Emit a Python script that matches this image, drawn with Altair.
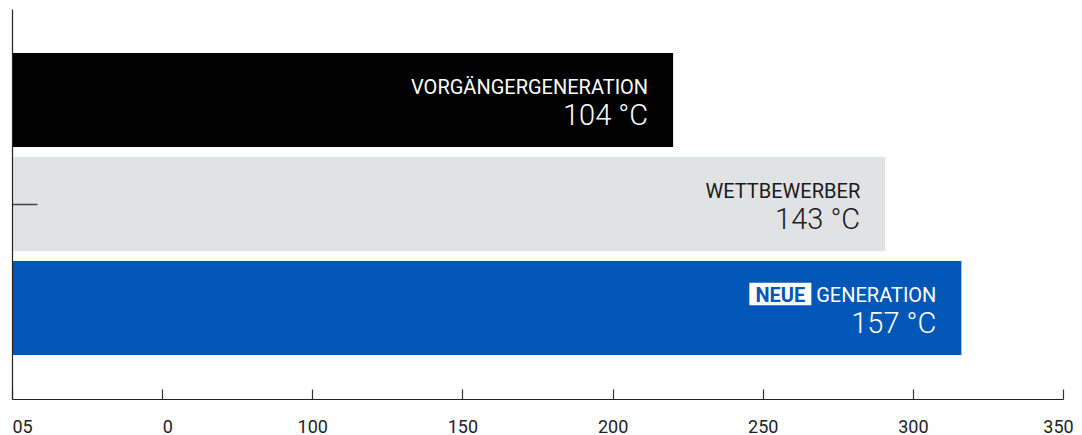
import json
import altair as alt
import pandas as pd

# ---- data ----
categories = ["VORGÄNGERGENERATION", "WETTBEWERBER", "NEUE GENERATION"]
name_labels = ["VORGÄNGERGENERATION", "WETTBEWERBER", "GENERATION"]
badges = ["", "", "NEUE"]
values = [104, 143, 157]
unit = "°C"
tick_labels = ["05", "0", "100", "150", "200", "250", "300", "350"]

# ---- styles ----
BAR_COLORS = ["#000000", "#e1e2e4", "#0057b8"]
TEXT_COLORS = ["#ffffff", "#1a1a1a", "#ffffff"]
BADGE_TEXT = "#0057b8"
AXIS_COLOR = "#222222"
FONT = "Roboto"

df = pd.DataFrame({"cat": categories, "name": name_labels, "badge": badges, "value": values})
df["value_label"] = [f"{v} {unit}" for v in values]
ticks_df = pd.DataFrame({"idx": list(range(len(tick_labels))), "label": tick_labels})
last_idx = len(tick_labels) - 1

xscale = alt.Scale(domain=[-17.56, 175.69], nice=False, zero=False)
xenc = alt.X("value:Q", scale=xscale, axis=None)
yenc = alt.Y(
    "cat:N",
    sort=categories,
    scale=alt.Scale(domain=categories, paddingInner=0.096, paddingOuter=0.423),
    axis=alt.Axis(
        values=[categories[1]], labels=False, title=None,
        domainColor=AXIS_COLOR, domainWidth=1.2,
        tickColor="#444444", tickWidth=1.5, tickSize={"expr": "-25"},
        grid=False,
    ),
)

bars = alt.Chart(df).mark_rect().encode(
    x=xenc,
    x2=alt.value(0),
    y=yenc,
    color=alt.Color("cat:N", scale=alt.Scale(domain=categories, range=BAR_COLORS), legend=None),
)

badge_box = alt.Chart(df).transform_filter("datum.badge != ''").mark_bar(
    color="#ffffff", size=22.5, yOffset=-14, xOffset=-212, x2Offset=-150
).encode(x=xenc, x2="value:Q", y=yenc)

badge_text = alt.Chart(df).transform_filter("datum.badge != ''").mark_text(
    align="center", baseline="alphabetic", dx=-181, dy=-6,
    font=FONT, fontSize=20, fontWeight="bold", color=BADGE_TEXT
).encode(x=xenc, y=yenc, text="badge:N")

text_color = alt.Color("cat:N", scale=alt.Scale(domain=categories, range=TEXT_COLORS), legend=None)

names = alt.Chart(df).mark_text(
    align="right", baseline="alphabetic", dx=-25, dy=-6, font=FONT, fontSize=20
).encode(x=xenc, y=yenc, text="name:N", color=text_color)

vals = alt.Chart(df).mark_text(
    align="right", baseline="alphabetic", dx=-25, dy=24.6, font=FONT, fontSize=29, fontWeight=300
).encode(x=xenc, y=yenc, text="value_label:N", color=text_color)

label_expr = json.dumps(tick_labels) + "[datum.value]"
axis_layer = alt.Chart(ticks_df).mark_point(opacity=0).encode(
    x=alt.X(
        "idx:Q",
        scale=alt.Scale(domain=[0, last_idx], nice=False, zero=False),
        axis=alt.Axis(
            orient="bottom", values=list(range(len(tick_labels))), labelExpr=label_expr,
            labelAlign={"condition": {"test": "datum.value < 2", "value": "left"}, "value": "center"},
            labelOffset={"condition": {"test": f"datum.value == {last_idx}", "value": -5}, "value": 0},
            labelFlush=False, labelOverlap=False, labelBaseline="top",
            tickSize={"expr": "-10"}, tickColor="#333333", tickWidth=1.2,
            labelPadding=29, labelFont=FONT, labelFontSize=18, labelColor=AXIS_COLOR,
            domainColor=AXIS_COLOR, domainWidth=1.2, title=None, grid=False,
        ),
    )
)

chart = alt.layer(bars, badge_box, badge_text, names, vals, axis_layer).resolve_scale(
    x="independent", color="independent"
).properties(
    width=1051, height=390,
    autosize=alt.AutoSizeParams(type="none"),
    padding={"left": 4, "top": 1, "right": 11, "bottom": 44},
).configure_view(strokeWidth=0)

chart.save("out.html", embed_options={"renderer": "svg", "actions": False})
